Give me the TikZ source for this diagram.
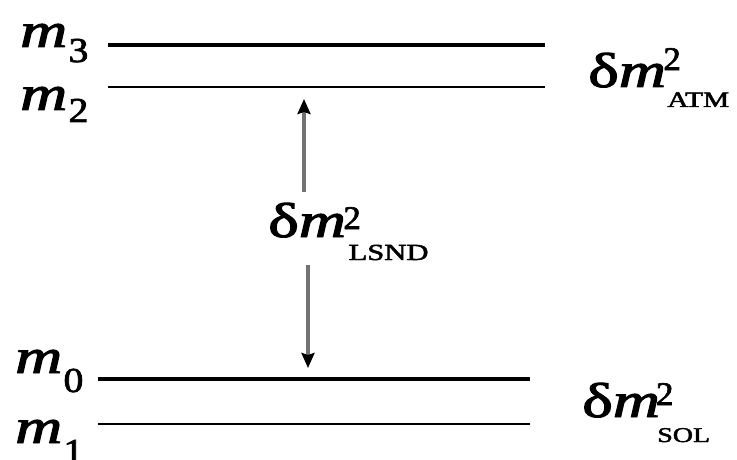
\documentclass[tikz,border=0pt]{standalone}
\usepackage{fontspec}
\setmainfont{Liberation Serif}[FakeBold=2]
\usetikzlibrary{arrows.meta}
\newcommand\bigf{\fontsize{49}{55}\selectfont}
\newcommand\supf{\fontsize{33}{36}\selectfont}
\newcommand\subf{\fontsize{35}{38}\selectfont}
\newcommand\hs[1]{\scalebox{1.33}[1]{#1}}
\newcommand\sqz[2]{\scalebox{#1}[1]{#2}}
\begin{document}
\begin{tikzpicture}[x=1pt,y=-1pt,
  lab/.style={inner sep=0pt,anchor=base west},
  thicklevel/.style={line width=3.6pt},
  thinlevel/.style={line width=2.2pt},
  arr/.style={line width=3.2pt,draw=black!55,-{Stealth[length=15pt,width=13pt,inset=2pt,color=black]}}]
\useasboundingbox (0,0) rectangle (737,460);
% level labels
\node[lab] (m3) at (20,47) {\hs{\bigf\textit{m}\kern1pt\raisebox{-15pt}{\sqz{0.85}{\subf 3}}}};
\node[lab] (m2) at (20,110) {\hs{\bigf\textit{m}\kern1pt\raisebox{-12pt}{\sqz{0.85}{\subf 2}}}};
\node[lab] (m0) at (15,373) {\hs{\bigf\textit{m}\kern1pt\raisebox{-19pt}{\sqz{0.85}{\subf 0}}}};
\node[lab] (m1) at (15,443) {\hs{\bigf\textit{m}\kern1pt\raisebox{-20pt}{\sqz{0.85}{\subf 1}}}};
% levels
\coordinate (l3a) at (108,45); \coordinate (l3b) at (545,45);
\coordinate (l2a) at (108,87); \coordinate (l2b) at (545,87);
\coordinate (l0a) at (98,379); \coordinate (l0b) at (530,379);
\coordinate (l1a) at (98,424); \coordinate (l1b) at (530,424);
\draw[thicklevel] (l3a) -- (l3b);
\draw[thinlevel] (l2a) -- (l2b);
\draw[thicklevel] (l0a) -- (l0b);
\draw[thinlevel] (l1a) -- (l1b);
% splitting labels
\node[lab] (atm) at (588,87) {\hs{\bigf δ\textit{m}\kern-2pt\rlap{\raisebox{17pt}{\sqz{0.8}{\supf 2}}}\kern3pt\raisebox{-20pt}{\fontsize{22}{24}\selectfont ATM}}};
\node[lab] (sol) at (582,417) {\hs{\bigf δ\textit{m}\kern-3pt\rlap{\raisebox{12pt}{\sqz{0.8}{\supf 2}}}\kern1pt\raisebox{-25pt}{\fontsize{21}{24}\selectfont SOL}}};
\node[lab] (lsnd) at (268,237) {\hs{\bigf δ\textit{m}\kern-2pt\rlap{\raisebox{8pt}{\sqz{0.8}{\supf 2}}}\kern4pt\raisebox{-23pt}{\fontsize{23}{26}\selectfont LSND}}};
% LSND arrows
\coordinate (up0) at (304,192); \coordinate (up1) at (304,99);
\coordinate (dn0) at (308,265); \coordinate (dn1) at (308,368);
\draw[arr] (up0) -- (up1);
\draw[arr] (dn0) -- (dn1);
\end{tikzpicture}
\end{document}
